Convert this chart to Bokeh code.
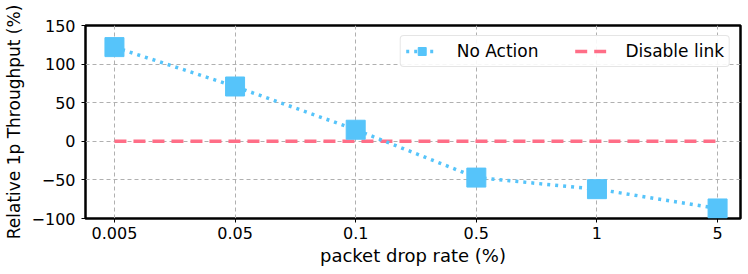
from bokeh.plotting import figure
from bokeh.models import FixedTicker, Range1d
from bokeh.embed import file_html
from bokeh.resources import INLINE

rates = ["0.005", "0.05", "0.1", "0.5", "1", "5"]
no_action = [122, 71, 15, -47, -62, -87]
disable_link = [0, 0, 0, 0, 0, 0]
y_ticks = [-100, -50, 0, 50, 100, 150]

xs = list(range(len(rates)))

p = figure(width=748, height=274, output_backend="svg", toolbar_location=None,
           x_range=Range1d(-0.24, 5.19), y_range=Range1d(-100, 150),
           min_border_left=83, min_border_right=8, min_border_top=25, min_border_bottom=56)

p.line(xs, disable_link, color="#ff6e87", line_width=3.5, line_dash="12 7", legend_label="Disable link")
p.line(xs, no_action, color="#56c4fa", line_width=3.5, line_dash="3 5", legend_label="No Action")
p.scatter(xs, no_action, marker="square", size=19, color="#56c4fa", legend_label="No Action")

p.xaxis.ticker = FixedTicker(ticks=xs)
p.xaxis.major_label_overrides = {i: r for i, r in enumerate(rates)}
p.yaxis.ticker = FixedTicker(ticks=y_ticks)
p.yaxis.major_label_overrides = {t: (str(t).replace("-", "\u2212")) for t in y_ticks}

font = "DejaVu Sans"
for ax in (p.xaxis[0], p.yaxis[0]):
    ax.major_label_text_font = font
    ax.major_label_text_font_size = "16px"
    ax.major_label_text_color = "black"
    ax.axis_label_text_font = font
    ax.axis_label_text_font_style = "normal"
    ax.axis_label_text_color = "black"
    ax.axis_line_color = None
    ax.major_tick_line_color = "black"
    ax.major_tick_out = 4
    ax.major_tick_in = 0
    ax.minor_tick_line_color = None

p.xaxis.axis_label = "packet drop rate (%)"
p.yaxis.axis_label = "Relative 1p Throughput (%)"
p.xaxis.axis_label_text_font_size = "18px"
p.yaxis.axis_label_text_font_size = "17px"
p.xaxis.major_label_standoff = 4
p.xaxis.axis_label_standoff = 3
p.yaxis.major_label_standoff = 6
p.yaxis.axis_label_standoff = 5

p.outline_line_color = "black"
p.outline_line_width = 2.5
p.outline_line_alpha = 1

for g in (p.xgrid[0], p.ygrid[0]):
    g.grid_line_color = "#b0b0b0"
    g.grid_line_dash = "4 3"
    g.grid_line_width = 1

leg = p.legend[0]
leg.location = "top_right"
leg.orientation = "horizontal"
leg.label_text_font = font
leg.label_text_font_size = "17px"
leg.label_text_color = "black"
leg.border_line_color = "#cccccc"
leg.border_line_width = 1
leg.border_radius = 4
leg.background_fill_alpha = 0.9
leg.glyph_width = 32
leg.glyph_height = 20
leg.spacing = 36
leg.label_standoff = 19
leg.margin = 10
leg.padding = 5

items = leg.items
items.sort(key=lambda it: 0 if it.label.value == "No Action" else 1)
leg.items = items

open("out.html", "w").write(file_html(p, INLINE))
